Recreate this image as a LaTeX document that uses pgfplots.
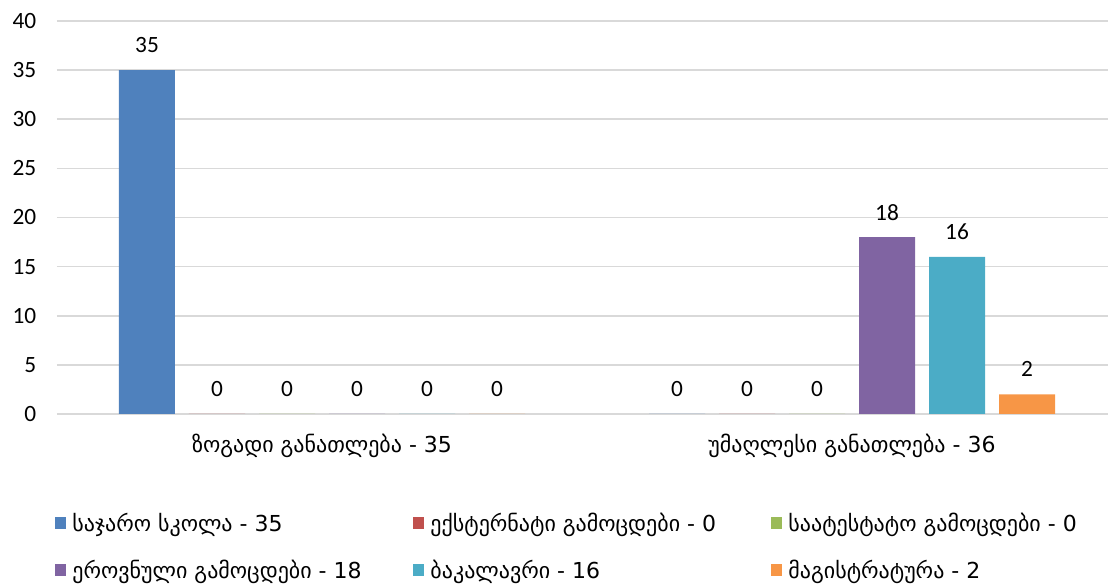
\documentclass[border=0pt]{standalone}
\usepackage{fontspec}
\setmainfont{DejaVu Sans}
\newfontfamily\numfont{Carlito}
\usepackage{pgfplots}
\pgfplotsset{compat=1.18}
\definecolor{c1}{HTML}{4F81BD}
\definecolor{c2}{HTML}{C0504D}
\definecolor{c3}{HTML}{9BBB59}
\definecolor{c4}{HTML}{8064A2}
\definecolor{c5}{HTML}{4BACC6}
\definecolor{c6}{HTML}{F79646}
\definecolor{gridgray}{HTML}{D9D9D9}
\newcommand{\geofont}{\fontsize{16.5pt}{19pt}\selectfont}
\newcommand{\nfont}{\numfont\fontsize{17.5pt}{20pt}\selectfont}
\newcommand{\lent}[1]{\makebox[251.5pt][l]{#1}}
\begin{document}
\begin{tikzpicture}
\begin{axis}[
  scale only axis, width=795pt, height=294.75pt,
  ybar=10.5pt, bar width=42pt,
  xmin=-0.5, xmax=1.5, ymin=0, ymax=40,
  xtick={0,1},
  xticklabels={ზოგადი განათლება - 35, უმაღლესი განათლება - 36},
  ytick={0,5,...,40},
  /pgf/number format/assume math mode=true,
  axis line style={draw=none},
  major tick length=0pt,
  ymajorgrids, grid style={gridgray, line width=1.2pt},
  yticklabel style={font=\nfont, anchor=east, xshift=-12pt},
  xticklabel style={font=\geofont, anchor=center, yshift=-24pt},
  nodes near coords,
  every node near coord/.append style={font=\nfont, text=black, anchor=center, yshift=18.75pt},
  legend columns=3,
  legend cell align=left,
  legend style={draw=none, font=\geofont, at={(-0.002,-0.244)}, anchor=north west,
    /tikz/every odd column/.append style={column sep=2.5pt},
    /tikz/every even column/.append style={column sep=2pt},
    row sep=16pt, inner sep=0pt},
  legend image code/.code={\fill[#1] (0pt,-4.5pt) rectangle (8.5pt,4.5pt);},
]
\addplot[fill=c1, draw=none] coordinates {(0,35) (1,0)};
\addplot[fill=c2, draw=none] coordinates {(0,0) (1,0)};
\addplot[fill=c3, draw=none] coordinates {(0,0) (1,0)};
\addplot[fill=c4, draw=none] coordinates {(0,0) (1,18)};
\addplot[fill=c5, draw=none] coordinates {(0,0) (1,16)};
\addplot[fill=c6, draw=none] coordinates {(0,0) (1,2)};
\addlegendentry{\lent{საჯარო სკოლა - 35}}
\addlegendentry{\lent{ექსტერნატი გამოცდები - 0}}
\addlegendentry{საატესტატო გამოცდები - 0}
\addlegendentry{\lent{ეროვნული გამოცდები - 18}}
\addlegendentry{\lent{ბაკალავრი - 16}}
\addlegendentry{მაგისტრატურა - 2}
\end{axis}
\pgfresetboundingbox
\path[use as bounding box] (current axis.south west) ++(-42.75pt,-127.5pt) rectangle ++(831pt,438pt);
\end{tikzpicture}
\end{document}
